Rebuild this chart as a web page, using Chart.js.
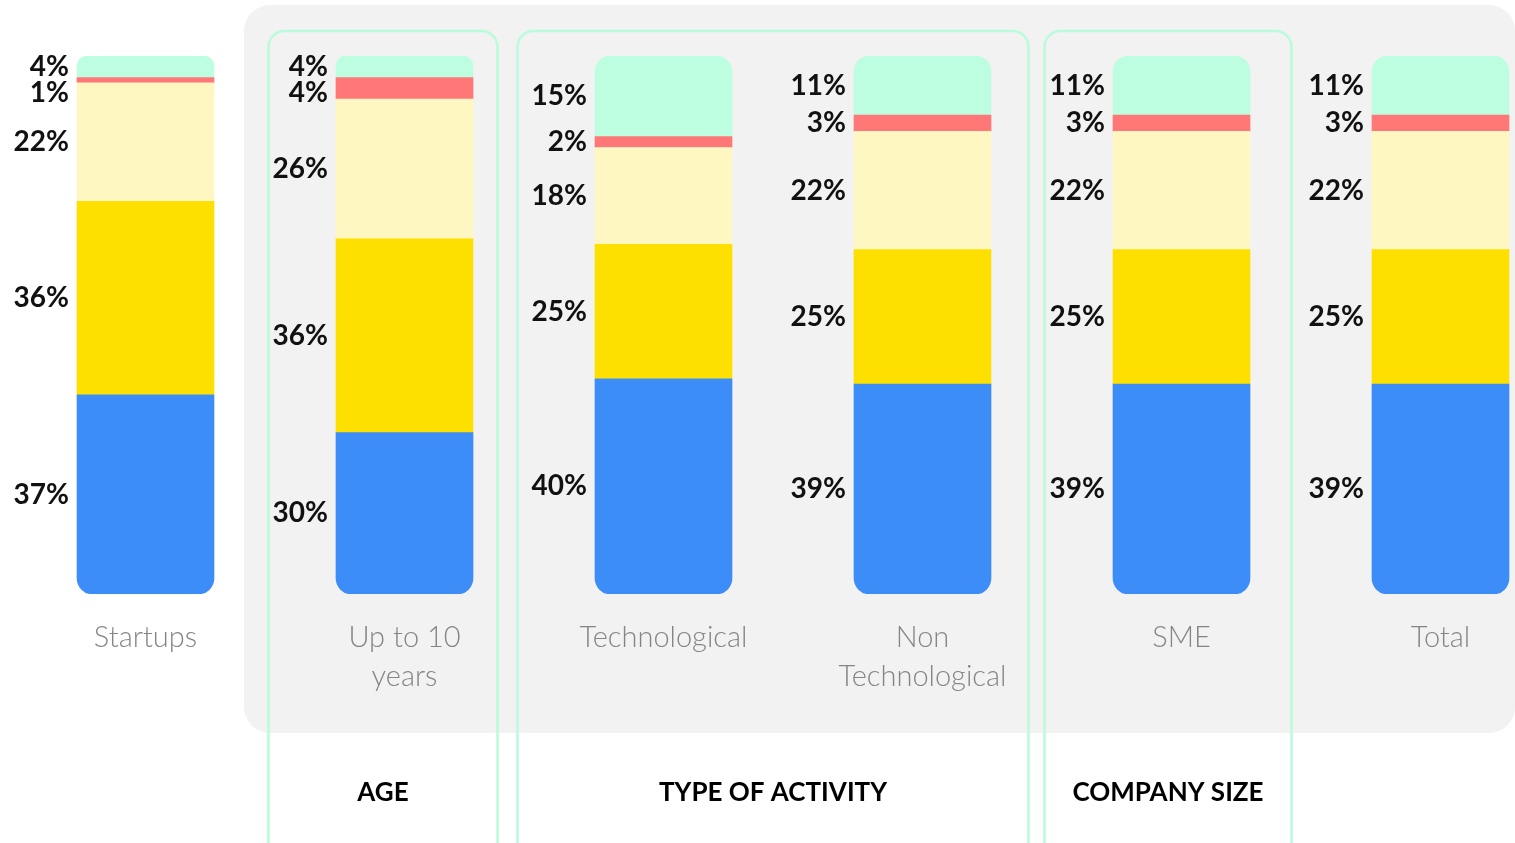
<!DOCTYPE html>
<html>
<head>
<meta charset="utf-8">
<script src="https://cdn.jsdelivr.net/npm/chart.js@4.4.1/dist/chart.umd.min.js"></script>
<style>
  html, body { margin: 0; padding: 0; background: #ffffff; overflow: hidden; }
  #wrap { width: 1515px; height: 843px; overflow: hidden; position: relative; }
  #box { width: 1600px; height: 843px; position: absolute; left: 0; top: 0; }
</style>
</head>
<body>
<div id="wrap"><div id="box"><canvas id="chart" width="1600" height="843"></canvas></div></div>
<script>
// Categories (multi-line labels) and the five stacked shares, bottom to top
const categories = [['Startups'], ['Up to 10', 'years'], ['Technological'], ['Non', 'Technological'], ['SME'], ['Total']];
const blueShare        = [37, 30, 40, 39, 39, 39];
const yellowShare      = [36, 36, 25, 25, 25, 25];
const paleYellowShare  = [22, 26, 18, 22, 22, 22];
const redShare         = [1, 4, 2, 3, 3, 3];
const mintShare        = [4, 4, 15, 11, 11, 11];

// Category groupings shown as outlined columns
const groupTitles = ['AGE', 'TYPE OF ACTIVITY', 'COMPANY SIZE'];
const groupFirst  = [1, 2, 4];
const groupLast   = [1, 3, 4];
// outline padding around the grouped bars (left of first, right of last)
const groupPadLeft  = [136, 146, 137];
const groupPadRight = [93, 106, 110];

const COLORS = {
  blue: '#3d8df8',
  yellow: '#fee000',
  paleYellow: '#fef7c2',
  red: '#ff7777',
  mint: '#bdfee0',
  panel: '#f2f2f2',
  outline: '#b9fcdc',
  catText: '#858585',
  valueText: '#111111'
};
const R = 16;

function roundRect(ctx, x, y, w, h, r) {
  ctx.beginPath();
  ctx.moveTo(x + r, y);
  ctx.lineTo(x + w - r, y);
  ctx.arcTo(x + w, y, x + w, y + r, r);
  ctx.lineTo(x + w, y + h - r);
  ctx.arcTo(x + w, y + h, x + w - r, y + h, r);
  ctx.lineTo(x + r, y + h);
  ctx.arcTo(x, y + h, x, y + h - r, r);
  ctx.lineTo(x, y + r);
  ctx.arcTo(x, y, x + r, y, r);
  ctx.closePath();
}

// Grey panel behind the segment categories plus mint group outlines
const backdrop = {
  id: 'backdrop',
  beforeDatasetsDraw(chart) {
    const ctx = chart.ctx;
    const xs = chart.scales.x;
    ctx.save();
    const p0 = (xs.getPixelForValue(0) + xs.getPixelForValue(1)) / 2 - 31;
    ctx.fillStyle = COLORS.panel;
    roundRect(ctx, p0, 5, 1515 - p0, 728, 26);
    ctx.fill();

    ctx.strokeStyle = COLORS.outline;
    ctx.lineWidth = 2.5;
    for (let g = 0; g < groupTitles.length; g++) {
      const left = xs.getPixelForValue(groupFirst[g]) - groupPadLeft[g];
      const right = xs.getPixelForValue(groupLast[g]) + groupPadRight[g];
      roundRect(ctx, left, 31, right - left, 830, 16);
      ctx.stroke();
      ctx.fillStyle = '#000000';
      ctx.font = 'bold 26px Lato';
      ctx.textAlign = 'center';
      ctx.textBaseline = 'middle';
      ctx.fillText(groupTitles[g], (left + right) / 2, 793);
    }
    ctx.restore();
  }
};

// Percentage labels to the left of each bar, and category names below
const annotate = {
  id: 'annotate',
  afterDatasetsDraw(chart) {
    const ctx = chart.ctx;
    const xs = chart.scales.x;
    ctx.save();
    const nCat = categories.length;
    for (let i = 0; i < nCat; i++) {
      const items = [];
      chart.data.datasets.forEach((ds, d) => {
        const bar = chart.getDatasetMeta(d).data[i];
        items.push({ text: ds.data[i] + '%', y: (bar.y + bar.base) / 2, x: bar.x - bar.width / 2 });
      });
      // top to bottom, pushing crowded labels down
      items.sort((a, b) => a.y - b.y);
      for (let k = 1; k < items.length; k++) {
        if (items[k].y < items[k - 1].y + 26) items[k].y = items[k - 1].y + 26;
      }
      ctx.fillStyle = COLORS.valueText;
      ctx.font = 'bold 28px Lato';
      ctx.textAlign = 'right';
      ctx.textBaseline = 'middle';
      items.forEach(it => ctx.fillText(it.text, it.x - 8, it.y));

      ctx.fillStyle = COLORS.catText;
      ctx.font = '300 29px Lato';
      ctx.textAlign = 'center';
      const cx = xs.getPixelForValue(i);
      categories[i].forEach((line, li) => ctx.fillText(line, cx, 638 + li * 39));
    }
    ctx.restore();
  }
};

const base = { borderWidth: 0, barThickness: 137, borderSkipped: false };
new Chart(document.getElementById('chart'), {
  type: 'bar',
  data: {
    labels: categories.map(c => c.join(' ')),
    datasets: [
      Object.assign({ label: 'blue', data: blueShare, backgroundColor: COLORS.blue,
        borderRadius: { topLeft: 0, topRight: 0, bottomLeft: R, bottomRight: R } }, base),
      Object.assign({ label: 'yellow', data: yellowShare, backgroundColor: COLORS.yellow, borderRadius: 0 }, base),
      Object.assign({ label: 'pale yellow', data: paleYellowShare, backgroundColor: COLORS.paleYellow, borderRadius: 0 }, base),
      Object.assign({ label: 'red', data: redShare, backgroundColor: COLORS.red, borderRadius: 0 }, base),
      Object.assign({ label: 'mint', data: mintShare, backgroundColor: COLORS.mint,
        borderRadius: { topLeft: R, topRight: R, bottomLeft: 0, bottomRight: 0 } }, base)
    ]
  },
  options: {
    responsive: false,
    animation: false,
    layout: { padding: { left: 16, right: 30, top: 56, bottom: 249 } },
    plugins: { legend: { display: false }, tooltip: { enabled: false } },
    scales: {
      x: { stacked: true, display: false },
      y: { stacked: true, display: false, min: 0, max: 100 }
    }
  },
  plugins: [backdrop, annotate]
});
</script>
</body>
</html>
